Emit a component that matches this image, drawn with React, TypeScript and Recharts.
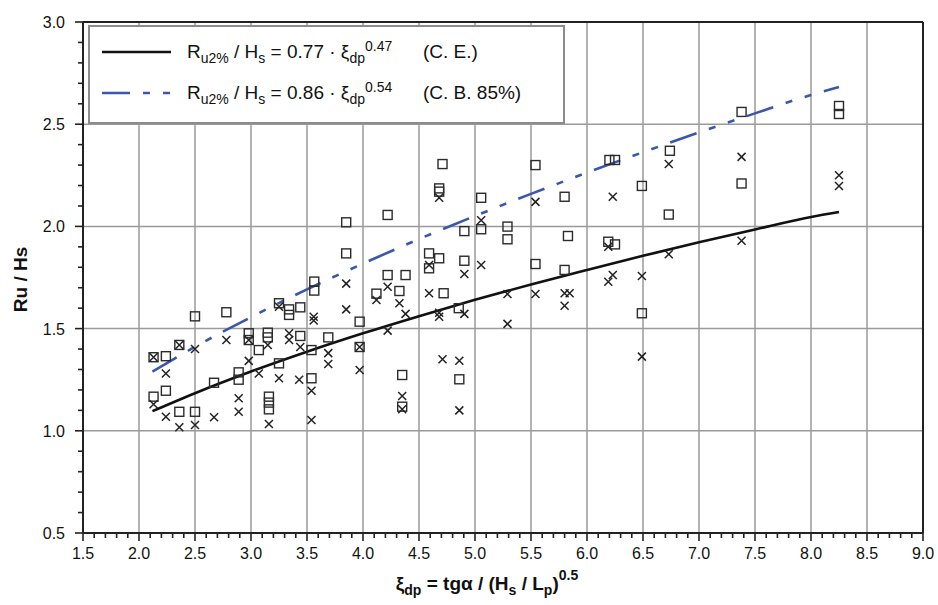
import React from 'react';
import { ComposedChart, XAxis, YAxis, Scatter, Line, ReferenceLine, Legend } from 'recharts';

// ---- data ----
const squarePoints = [
  { x: 2.13, y: 1.36 }, { x: 2.24, y: 1.365 }, { x: 2.36, y: 1.42 }, { x: 2.5, y: 1.56 },
  { x: 2.78, y: 1.58 }, { x: 2.13, y: 1.167 }, { x: 2.24, y: 1.196 }, { x: 2.36, y: 1.093 },
  { x: 2.5, y: 1.093 }, { x: 2.67, y: 1.235 }, { x: 2.89, y: 1.286 }, { x: 2.89, y: 1.25 },
  { x: 2.98, y: 1.477 }, { x: 2.98, y: 1.444 }, { x: 3.07, y: 1.395 }, { x: 3.15, y: 1.48 },
  { x: 3.15, y: 1.457 }, { x: 3.25, y: 1.33 }, { x: 3.16, y: 1.167 }, { x: 3.16, y: 1.138 },
  { x: 3.16, y: 1.105 }, { x: 3.25, y: 1.624 }, { x: 3.34, y: 1.594 }, { x: 3.34, y: 1.567 },
  { x: 3.44, y: 1.604 }, { x: 3.44, y: 1.464 }, { x: 3.54, y: 1.395 }, { x: 3.54, y: 1.257 },
  { x: 3.565, y: 1.73 }, { x: 3.565, y: 1.686 }, { x: 3.85, y: 2.02 }, { x: 3.85, y: 1.868 },
  { x: 3.69, y: 1.457 }, { x: 3.97, y: 1.534 }, { x: 3.97, y: 1.41 }, { x: 4.12, y: 1.671 },
  { x: 4.22, y: 2.056 }, { x: 4.71, y: 2.305 }, { x: 4.68, y: 2.186 }, { x: 4.68, y: 2.17 },
  { x: 5.055, y: 2.14 }, { x: 5.54, y: 2.3 }, { x: 5.8, y: 2.145 }, { x: 6.2, y: 2.325 },
  { x: 6.25, y: 2.325 }, { x: 6.49, y: 2.198 }, { x: 6.73, y: 2.058 }, { x: 4.905, y: 1.977 },
  { x: 5.055, y: 1.986 }, { x: 5.29, y: 1.999 }, { x: 5.29, y: 1.937 }, { x: 5.83, y: 1.953 },
  { x: 4.59, y: 1.868 }, { x: 4.68, y: 1.844 }, { x: 4.59, y: 1.795 }, { x: 4.905, y: 1.832 },
  { x: 5.54, y: 1.816 }, { x: 5.8, y: 1.787 }, { x: 6.19, y: 1.925 }, { x: 6.25, y: 1.912 },
  { x: 6.49, y: 1.575 }, { x: 4.22, y: 1.762 }, { x: 4.38, y: 1.762 }, { x: 4.325, y: 1.684 },
  { x: 4.72, y: 1.673 }, { x: 4.855, y: 1.6 }, { x: 4.86, y: 1.252 }, { x: 4.35, y: 1.273 },
  { x: 4.35, y: 1.118 }, { x: 6.74, y: 2.37 }, { x: 7.38, y: 2.56 }, { x: 7.38, y: 2.21 },
  { x: 8.25, y: 2.589 }, { x: 8.25, y: 2.55 },
];

const crossPoints = [
  { x: 2.13, y: 1.36 }, { x: 2.36, y: 1.42 }, { x: 2.5, y: 1.4 }, { x: 2.78, y: 1.444 },
  { x: 2.24, y: 1.28 }, { x: 2.13, y: 1.13 }, { x: 2.24, y: 1.069 }, { x: 2.36, y: 1.017 },
  { x: 2.5, y: 1.028 }, { x: 2.67, y: 1.066 }, { x: 2.89, y: 1.159 }, { x: 2.89, y: 1.093 },
  { x: 2.98, y: 1.342 }, { x: 2.98, y: 1.444 }, { x: 3.15, y: 1.42 }, { x: 3.07, y: 1.28 },
  { x: 3.25, y: 1.257 }, { x: 3.16, y: 1.033 }, { x: 3.25, y: 1.607 }, { x: 3.34, y: 1.477 },
  { x: 3.34, y: 1.444 }, { x: 3.44, y: 1.41 }, { x: 3.43, y: 1.25 }, { x: 3.54, y: 1.196 },
  { x: 3.54, y: 1.053 }, { x: 3.56, y: 1.558 }, { x: 3.56, y: 1.54 }, { x: 3.85, y: 1.72 },
  { x: 3.85, y: 1.594 }, { x: 3.69, y: 1.38 }, { x: 3.69, y: 1.327 }, { x: 3.97, y: 1.41 },
  { x: 3.97, y: 1.297 }, { x: 4.12, y: 1.64 }, { x: 4.68, y: 2.14 }, { x: 5.54, y: 2.12 },
  { x: 6.23, y: 2.145 }, { x: 6.73, y: 2.305 }, { x: 5.055, y: 2.03 }, { x: 4.59, y: 1.811 },
  { x: 4.905, y: 1.767 }, { x: 5.055, y: 1.811 }, { x: 6.19, y: 1.9 }, { x: 6.23, y: 1.762 },
  { x: 6.19, y: 1.729 }, { x: 6.49, y: 1.757 }, { x: 6.49, y: 1.363 }, { x: 6.73, y: 1.864 },
  { x: 4.22, y: 1.705 }, { x: 4.325, y: 1.624 }, { x: 4.38, y: 1.572 }, { x: 4.22, y: 1.49 },
  { x: 4.59, y: 1.673 }, { x: 4.68, y: 1.578 }, { x: 4.68, y: 1.558 }, { x: 4.905, y: 1.572 },
  { x: 5.29, y: 1.669 }, { x: 5.54, y: 1.669 }, { x: 5.8, y: 1.673 }, { x: 5.845, y: 1.673 },
  { x: 5.8, y: 1.612 }, { x: 5.29, y: 1.523 }, { x: 4.71, y: 1.35 }, { x: 4.86, y: 1.343 },
  { x: 4.86, y: 1.1 }, { x: 4.35, y: 1.17 }, { x: 4.35, y: 1.105 }, { x: 7.38, y: 2.34 },
  { x: 7.38, y: 1.93 }, { x: 8.25, y: 2.25 }, { x: 8.25, y: 2.198 },
];

// fitted curves
const ceCurve = [
  { x: 2.12, y: 1.096 }, { x: 2.5, y: 1.184 }, { x: 3.0, y: 1.29 }, { x: 3.5, y: 1.387 },
  { x: 4.0, y: 1.477 }, { x: 4.5, y: 1.561 }, { x: 5.0, y: 1.641 }, { x: 5.5, y: 1.716 },
  { x: 6.0, y: 1.787 }, { x: 6.5, y: 1.856 }, { x: 7.0, y: 1.922 }, { x: 7.5, y: 1.985 },
  { x: 8.0, y: 2.046 }, { x: 8.25, y: 2.07 },
];
const cbCurve = [
  { x: 2.12, y: 1.29 }, { x: 2.5, y: 1.411 }, { x: 3.0, y: 1.556 }, { x: 3.5, y: 1.692 },
  { x: 4.0, y: 1.818 }, { x: 4.5, y: 1.938 }, { x: 5.0, y: 2.051 }, { x: 5.5, y: 2.159 },
  { x: 6.0, y: 2.263 }, { x: 6.5, y: 2.363 }, { x: 7.0, y: 2.46 }, { x: 7.5, y: 2.553 },
  { x: 8.0, y: 2.643 }, { x: 8.25, y: 2.682 },
];

const xMajorTicks = [1.5, 2.0, 2.5, 3.0, 3.5, 4.0, 4.5, 5.0, 5.5, 6.0, 6.5, 7.0, 7.5, 8.0, 8.5, 9.0];
const yMajorTicks = [0.5, 1.0, 1.5, 2.0, 2.5, 3.0];
const xGrid = [2.0, 2.5, 3.0, 3.5, 4.0, 4.5, 5.0, 5.5, 6.0, 6.5, 7.0, 7.5, 8.0, 8.5];
const yGrid = [1.0, 1.5, 2.0, 2.5];

const legendRows = [
  { coef: '0.77', exp: '0.47', tag: '(C. E.)', color: '#111', dash: '' },
  { coef: '0.86', exp: '0.54', tag: '(C. B. 85%)', color: '#3b57ab', dash: '28 13 7 13 7 13' },
];

// minor ticks every 0.1 between the major ones
const minorFrom = (majors: number[]) => {
  const out: number[] = [];
  for (let i = 0; i < majors.length - 1; i++) {
    for (let k = 0; k < 5; k++) out.push(Math.round((majors[i] + k * 0.1) * 10) / 10);
  }
  out.push(majors[majors.length - 1]);
  return out;
};
const xTicks = minorFrom(xMajorTicks);
const yTicks = minorFrom(yMajorTicks);
const isMajor = (v: number) => Math.abs(v * 2 - Math.round(v * 2)) < 1e-6;

const FONT = '"Liberation Sans", Arial, Helvetica, sans-serif';
const AX = '#222';
const GRID = '#9a9a9a';
const BLUE = '#3b57ab';

const XTick = (props: any) => {
  const { x, y, payload } = props;
  const v = payload.value;
  const major = isMajor(v);
  return (
    <g>
      <line x1={x} x2={x} y1={y} y2={y + (major ? 8 : 5)} stroke={AX} strokeWidth={1.6} />
      {major && (
        <text x={x} y={y + 26} textAnchor="middle" fontSize={16} fill="#111" fontFamily={FONT}>
          {v.toFixed(1)}
        </text>
      )}
    </g>
  );
};

const YTick = (props: any) => {
  const { x, y, payload } = props;
  const v = payload.value;
  const major = isMajor(v);
  return (
    <g>
      <line x1={x} x2={x - (major ? 8 : 5)} y1={y} y2={y} stroke={AX} strokeWidth={1.6} />
      {major && (
        <text x={x - 18} y={y + 6} textAnchor="end" fontSize={16} fill="#111" fontFamily={FONT}>
          {v.toFixed(1)}
        </text>
      )}
    </g>
  );
};

const XTitle = (props: any) => {
  const vb = props.viewBox || { x: 83, y: 533, width: 840, height: 72 };
  const cx = vb.x + vb.width / 2 - 16;
  const cy = vb.y + 57;
  return (
    <text x={cx} y={cy} textAnchor="middle" fontSize={19} fontWeight="bold" fill="#111" fontFamily={FONT}>
      ξ<tspan dy={5} fontSize={14}>dp</tspan>
      <tspan dy={-5}> = tgα / (H</tspan>
      <tspan dy={5} fontSize={14}>s</tspan>
      <tspan dy={-5}> / L</tspan>
      <tspan dy={5} fontSize={14}>p</tspan>
      <tspan dy={-5}>)</tspan>
      <tspan dy={-10} fontSize={14}>0.5</tspan>
    </text>
  );
};

const YTitle = (props: any) => {
  const vb = props.viewBox || { x: 23, y: 22, width: 60, height: 511 };
  const cx = 27;
  const cy = vb.y + vb.height / 2 + 2;
  return (
    <text x={cx} y={cy} transform={`rotate(-90 ${cx} ${cy})`} textAnchor="middle" fontSize={19}
      fontWeight="bold" fill="#111" fontFamily={FONT}>
      Ru / Hs
    </text>
  );
};

const SquareShape = (p: any) => (
  <rect x={p.cx - 4.5} y={p.cy - 4.5} width={9} height={9} fill="none" stroke="#2b2b2b" strokeWidth={1.4} />
);
const CrossShape = (p: any) => (
  <path d={`M${p.cx - 4},${p.cy - 4}L${p.cx + 4},${p.cy + 4}M${p.cx - 4},${p.cy + 4}L${p.cx + 4},${p.cy - 4}`}
    stroke="#222" strokeWidth={1.5} fill="none" />
);

const subStyle = { fontSize: 14, lineHeight: 0 };

const LegendBox = () => (
  <div style={{
    position: 'relative', width: 477, height: 99, boxSizing: 'border-box', border: '2px solid #8c8c8c',
    background: '#fff', fontFamily: FONT, fontSize: 19, color: '#111',
  }}>
    {legendRows.map((r, i) => (
      <React.Fragment key={i}>
        <svg style={{ position: 'absolute', left: 11, top: 22 + 41 * i }} width={72} height={6}>
          <line x1={1} x2={70} y1={3} y2={3} stroke={r.color} strokeWidth={2.6}
            strokeDasharray={r.dash || undefined} />
        </svg>
        <div style={{ position: 'absolute', left: 97, top: 14 + 41 * i, lineHeight: '22px', whiteSpace: 'nowrap' }}>
          R<sub style={subStyle}>u2%</sub> / H<sub style={subStyle}>s</sub>
          {' '}= {r.coef} · ξ<sub style={subStyle}>dp</sub>
          <sup style={subStyle}>{r.exp}</sup>
        </div>
        <div style={{ position: 'absolute', left: 333, top: 14 + 41 * i, lineHeight: '22px', whiteSpace: 'nowrap' }}>
          {r.tag}
        </div>
      </React.Fragment>
    ))}
  </div>
);

export default function App() {
  return (
    <div style={{ position: 'absolute', left: 0, top: 0, width: 938, height: 605, background: '#fff' }}>
      <ComposedChart width={938} height={605} margin={{ top: 22, right: 15, bottom: 0, left: 23 }}>
        <XAxis
          type="number" dataKey="x" domain={[1.5, 9]} ticks={xTicks} interval={0}
          allowDataOverflow tick={<XTick />} tickLine={false} tickSize={0} tickMargin={0}
          axisLine={{ stroke: AX, strokeWidth: 2 }} height={72} label={{ content: <XTitle /> }}
        />
        <YAxis
          type="number" dataKey="y" domain={[0.5, 3]} ticks={yTicks} interval={0}
          allowDataOverflow tick={<YTick />} tickLine={false} tickSize={0} tickMargin={0}
          axisLine={{ stroke: AX, strokeWidth: 2 }} width={60} label={{ content: <YTitle /> }}
        />
        {xGrid.map((v) => (
          <ReferenceLine key={'gx' + v} x={v} stroke={GRID} strokeWidth={1.5} />
        ))}
        {yGrid.map((v) => (
          <ReferenceLine key={'gy' + v} y={v} stroke={GRID} strokeWidth={1.5} />
        ))}
        <ReferenceLine x={9} stroke={AX} strokeWidth={2} />
        <ReferenceLine y={3} stroke={AX} strokeWidth={2} />
        <Scatter data={squarePoints} shape={<SquareShape />} isAnimationActive={false} />
        <Scatter data={crossPoints} shape={<CrossShape />} isAnimationActive={false} />
        <Line data={ceCurve} dataKey="y" type="monotone" stroke="#111" strokeWidth={2.6} dot={false}
          activeDot={false} isAnimationActive={false} />
        <Line data={cbCurve} dataKey="y" type="monotone" stroke={BLUE} strokeWidth={2.6} dot={false}
          activeDot={false} strokeDasharray="28 13 7 13 7 13" isAnimationActive={false} />
        <Legend layout="vertical" align="center" verticalAlign="middle" content={<LegendBox />}
          wrapperStyle={{ left: 88, top: 25, width: 477, height: 99 }} />
      </ComposedChart>
    </div>
  );
}
